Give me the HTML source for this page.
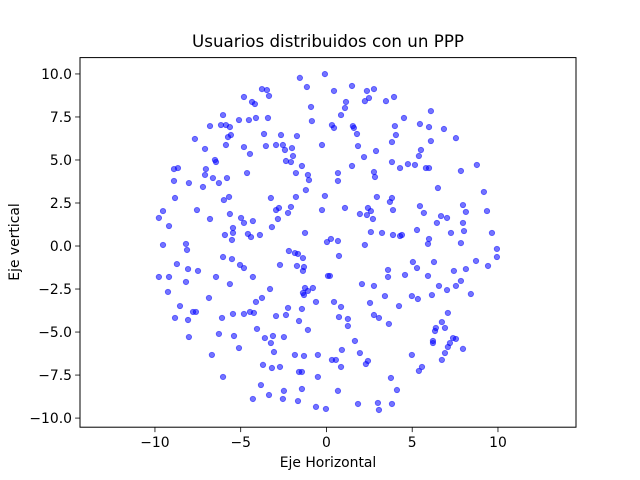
<!DOCTYPE html>
<html><head><meta charset="utf-8"><style>
body{margin:0;background:#fff;}
svg{display:block;font-family:"DejaVu Sans","Liberation Sans",sans-serif;}
</style></head><body>
<svg id="chart" width="640" height="480" viewBox="0 0 640 480">
<rect x="0" y="0" width="640" height="480" fill="#fff"/>
<text x="328" y="47" font-size="16.7" text-anchor="middle">Usuarios distribuidos con un PPP</text>
<g id="points"></g>
<rect x="80" y="57.6" width="496" height="369.6" fill="none" stroke="#000" stroke-width="1"/>
<g id="xticks"></g>
<g id="yticks"></g>
<text x="328" y="467" font-size="13.9" text-anchor="middle">Eje Horizontal</text>
<text x="15" y="242" font-size="13.9" text-anchor="middle" dominant-baseline="middle" transform="rotate(-90 15 242)">Eje vertical</text>
</svg>
<script>
const xTickVals = [-10, -5, 0, 5, 10];
const xTickLabels = ["\u221210", "\u22125", "0", "5", "10"];
const yTickVals = [10, 7.5, 5, 2.5, 0, -2.5, -5, -7.5, -10];
const yTickLabels = ["10.0", "7.5", "5.0", "2.5", "0.0", "\u22122.5", "\u22125.0", "\u22127.5", "\u221210.0"];
const xs = [-1.55,-0.09,-3.76,-3.47,-1.14,-3.35,-4.81,-4.34,-4.17,-0.90,-6.03,-5.10,-4.52,-4.11,-3.41,-0.85,-6.79,-6.15,-5.86,-5.63,-5.57,-5.74,-3.64,-2.65,-1.72,-7.67,-5.86,-4.81,-3.53,-2.94,-2.54,-2.01,-2.42,-0.26,-7.08,-4.46,-1.95,-6.50,-6.44,-2.36,-2.07,-1.43,-8.89,-8.66,-7.03,-7.08,-4.63,-1.78,-1.08,-1.02,-8.89,-8.02,-6.62,-6.27,-5.80,
0.44,1.49,2.36,2.77,2.48,2.24,1.14,1.08,0.85,3.47,3.94,6.09,4.52,0.32,0.44,1.54,1.60,1.78,3.99,5.45,5.98,6.85,4.05,3.82,7.55,6.09,1.84,2.89,2.19,5.51,5.39,3.82,4.75,5.16,4.29,5.80,5.98,8.77,7.84,1.49,0.67,0.67,2.77,2.83,
-7.20,-8.83,-9.53,-9.77,-9.18,-7.55,-6.79,-5.98,-5.68,-5.63,-4.98,-4.81,-4.29,-5.45,-5.45,-5.92,-5.51,-4.58,-4.40,-3.88,-3.24,-2.94,-2.77,-2.07,-2.24,-1.78,-1.20,-0.09,-0.26,-2.83,-3.18,-1.25,0.03,-9.53,-8.19,-8.13,-6.03,-5.51,-2.19,-1.84,-1.66,-1.37,-8.72,-8.07,-7.49,-5.04,-4.81,-2.71,-1.72,-1.31,-1.37,-9.77,-9.18,-6.44,-4.29,0.09,-8.19,-5.63,-9.24,-3.29,-1.25,-1.08,-0.79,-1.37,-6.85,-3.76,
2.94,3.82,3.70,6.50,9.18,1.08,2.42,2.59,1.95,2.36,2.71,3.88,5.45,5.68,7.96,8.13,9.36,6.68,7.03,6.44,7.96,8.02,7.26,9.65,7.84,2.59,3.24,3.88,4.29,4.40,5.28,5.98,5.92,0.26,0.67,2.24,0.73,9.94,9.94,8.72,9.42,5.04,6.27,5.28,3.59,3.59,4.58,5.92,7.43,8.13,0.20,2.07,2.77,6.56,7.03,7.55,7.84,3.41,4.98,6.15,8.42,5.33,
-8.54,-7.78,-7.61,-8.83,-8.07,-6.09,-5.45,-4.81,-4.46,-4.23,-4.11,-2.94,-2.36,-2.24,-1.43,-1.60,-1.08,-0.61,-1.31,-8.02,-6.27,-5.39,-4.05,-3.59,-3.12,-2.48,-3.24,-5.10,-3.06,-6.68,-1.84,-1.31,-0.50,-3.70,-3.18,-2.71,-1.60,-1.43,-0.50,-6.03,-3.82,-2.48,-1.43,-3.35,-4.29,-2.54,-1.66,-0.61,-0.03,
0.44,0.85,0.73,1.25,1.25,2.54,4.23,2.77,3.06,3.64,7.08,6.73,6.38,6.33,6.91,6.21,6.21,7.38,7.55,7.20,7.08,7.96,6.91,6.73,1.66,0.90,1.95,0.32,0.55,0.85,2.42,2.30,4.98,5.57,5.39,3.76,4.11,0.67,1.84,3.00,3.82,3.06];
const ys = [9.77,9.99,9.12,9.06,9.24,8.72,8.66,8.37,8.25,8.08,7.61,7.32,7.32,7.44,7.44,7.26,6.97,7.03,7.03,6.91,6.45,6.33,6.51,6.45,6.39,6.22,5.87,5.75,5.81,5.87,5.87,5.69,5.58,5.87,5.64,5.35,5.23,5.00,4.88,4.94,4.88,4.65,4.47,4.53,4.47,4.13,4.24,4.24,4.13,3.83,3.78,3.66,3.95,3.66,3.95,
9.01,9.30,9.01,9.12,8.60,8.42,8.37,8.02,7.61,8.42,8.66,7.84,7.44,7.03,6.86,6.97,6.86,6.51,6.97,7.09,6.91,6.80,6.45,6.04,6.27,6.10,5.81,5.52,5.17,5.58,5.23,4.88,4.76,4.71,4.53,4.53,4.53,4.71,4.36,4.65,4.24,3.78,4.30,4.01,
3.43,2.79,2.03,1.63,1.16,2.09,1.57,2.67,2.85,1.86,1.63,1.34,1.45,1.05,0.76,0.64,0.35,0.70,0.52,0.64,2.79,2.09,2.21,2.27,1.92,2.85,3.25,2.91,2.09,1.57,1.10,0.76,0.23,0.06,0.12,-0.23,-0.64,-0.76,-0.29,-0.41,-0.46,-0.70,-1.05,-1.34,-1.45,-1.10,-1.28,-1.10,-1.16,-1.22,-1.45,-1.80,-1.80,-1.80,-1.80,-1.74,-2.09,-2.21,-2.67,-2.50,-2.44,-2.61,-2.44,-2.73,-3.02,-3.02,
2.85,2.79,2.56,3.37,3.14,2.21,2.21,2.03,1.86,1.80,1.57,2.09,2.32,1.92,2.38,1.98,2.03,1.74,1.63,1.34,1.34,0.87,0.76,0.76,0.17,0.81,0.76,0.64,0.58,0.64,0.93,0.41,0.12,0.41,0.29,0.06,-0.58,-0.17,-0.64,-0.87,-1.16,-0.93,-0.93,-1.28,-1.39,-1.80,-1.68,-1.74,-1.45,-1.34,-1.74,-2.21,-2.32,-2.32,-2.56,-2.32,-2.03,-2.91,-2.91,-2.85,-2.79,-3.08,
-3.49,-3.83,-3.83,-4.18,-4.30,-4.18,-3.95,-3.95,-3.83,-3.89,-3.25,-4.07,-4.01,-3.60,-3.66,-4.36,-4.88,-3.25,-2.85,-5.29,-5.11,-5.23,-4.82,-5.35,-5.23,-5.29,-5.64,-5.93,-6.16,-6.33,-6.33,-6.39,-6.33,-6.91,-7.09,-7.03,-7.32,-7.32,-7.61,-7.61,-8.08,-8.42,-8.31,-8.66,-8.89,-8.89,-9.01,-9.35,-9.47,
-3.25,-3.54,-4.13,-4.24,-4.65,-3.31,-3.49,-4.01,-4.18,-4.53,-3.89,-4.42,-4.76,-4.94,-4.76,-5.52,-5.64,-5.35,-5.40,-5.64,-5.87,-5.98,-6.22,-6.62,-5.52,-6.04,-6.22,-6.62,-6.62,-7.03,-6.68,-6.86,-6.33,-7.03,-7.26,-7.67,-8.37,-8.42,-9.18,-9.12,-9.18,-9.53];

const NS = "http://www.w3.org/2000/svg";
const L = 80, R = 576, T = 57.6, B = 427.2;
const xMin = -14.37, xMax = 14.55, yMin = -10.53, yMax = 10.95;
function sx(v){ return L + (v - xMin) / (xMax - xMin) * (R - L); }
function sy(v){ return B - (v - yMin) / (yMax - yMin) * (B - T); }

const pg = document.getElementById('points');
for (let i = 0; i < xs.length; i++) {
  const c = document.createElementNS(NS, 'circle');
  c.setAttribute('cx', sx(xs[i]).toFixed(2));
  c.setAttribute('cy', sy(ys[i]).toFixed(2));
  c.setAttribute('r', '2.7');
  c.setAttribute('fill', 'rgba(0,0,255,0.55)');
  c.setAttribute('stroke', 'rgba(0,0,255,0.55)');
  c.setAttribute('stroke-width', '0.8');
  
  
  pg.appendChild(c);
}
const xg = document.getElementById('xticks');
xTickVals.forEach((v, i) => {
  const x = sx(v);
  const ln = document.createElementNS(NS, 'line');
  ln.setAttribute('x1', x); ln.setAttribute('x2', x);
  ln.setAttribute('y1', B); ln.setAttribute('y2', B + 4.9);
  ln.setAttribute('stroke', '#000'); ln.setAttribute('stroke-width', '0.8');
  
  
  xg.appendChild(ln);
  const t = document.createElementNS(NS, 'text');
  t.setAttribute('x', x); t.setAttribute('y', B + 20);
  t.setAttribute('font-size', '13.9'); t.setAttribute('text-anchor', 'middle');
  t.textContent = xTickLabels[i];
  
  
  xg.appendChild(t);
});
const yg = document.getElementById('yticks');
yTickVals.forEach((v, i) => {
  const y = sy(v);
  const ln = document.createElementNS(NS, 'line');
  ln.setAttribute('x1', L - 4.9); ln.setAttribute('x2', L);
  ln.setAttribute('y1', y); ln.setAttribute('y2', y);
  ln.setAttribute('stroke', '#000'); ln.setAttribute('stroke-width', '0.8');
  
  
  yg.appendChild(ln);
  const t = document.createElementNS(NS, 'text');
  t.setAttribute('x', L - 8); t.setAttribute('y', y + 5);
  t.setAttribute('font-size', '13.9'); t.setAttribute('text-anchor', 'end');
  t.textContent = yTickLabels[i];
  
  
  yg.appendChild(t);
});
</script>
</body></html>
